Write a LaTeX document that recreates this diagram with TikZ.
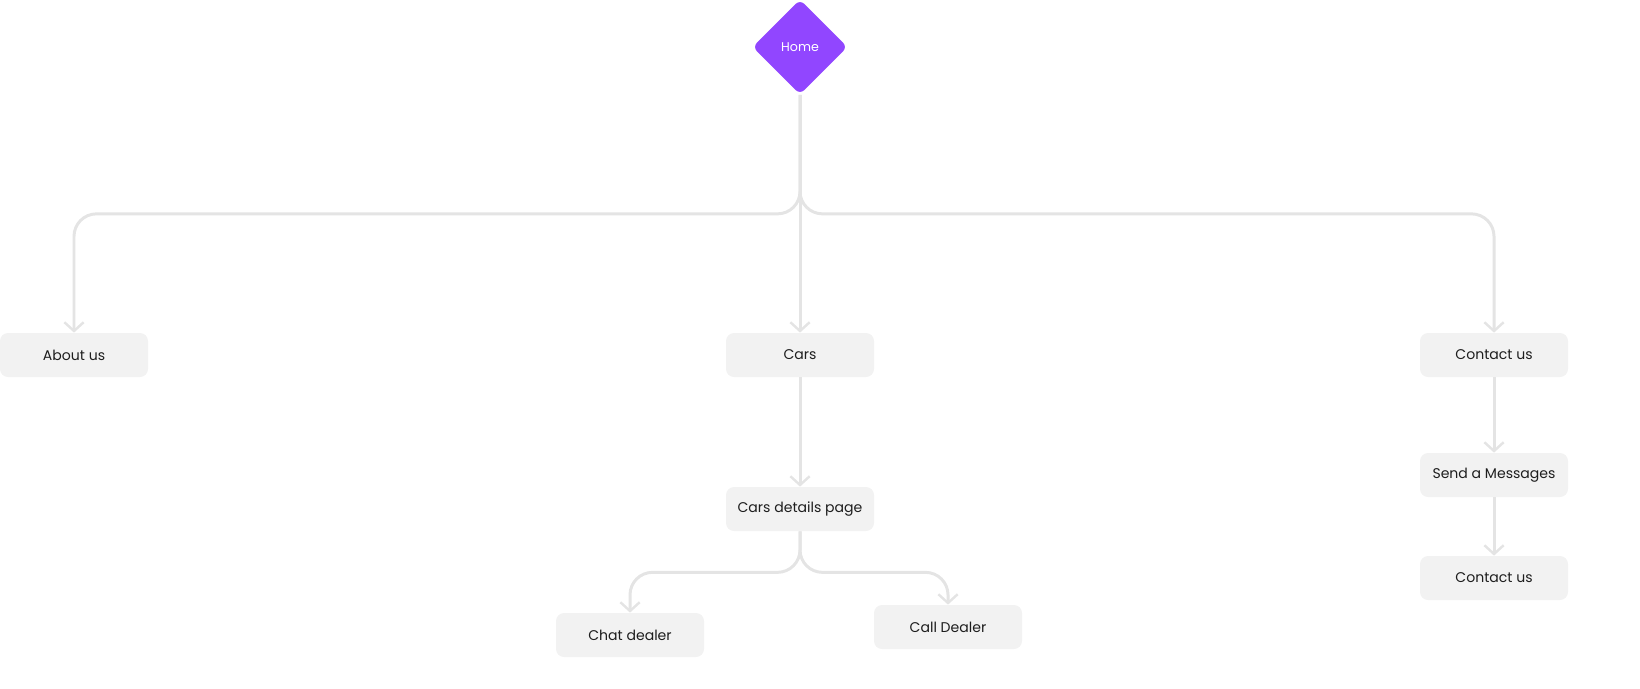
\documentclass[tikz,border=0pt]{standalone}
\usepackage{fontspec}
\setmainfont{Poppins}
\usetikzlibrary{arrows.meta,shapes.geometric,positioning}
\definecolor{homepurple}{HTML}{9146FF}
\definecolor{boxgrey}{HTML}{F2F2F2}
\definecolor{linkgrey}{HTML}{E4E4E4}
\definecolor{labelink}{HTML}{1E1E1E}
\tikzset{
  page/.style={fill=boxgrey, rounded corners=0.16cm, minimum width=2.96cm,
    minimum height=0.88cm, text=labelink, font=\fontsize{8}{9.5}\selectfont},
  link/.style={draw=linkgrey, line width=1.7pt, rounded corners=0.45cm,
    -{Straight Barb[length=5pt,width=11pt,line width=1.4pt]}},
}
\begin{document}
\begin{tikzpicture}
  \useasboundingbox (0,0) rectangle (32.8,-13.76);
  % home
  \node[diamond, fill=homepurple, rounded corners=0.12cm, minimum width=1.9cm,
    minimum height=1.9cm, inner sep=0pt, text=white,
    font=\fontsize{7.2}{8}\selectfont] (home) at (16,-0.94) {Home};
  % first level
  \node[page] (about) at (1.48,-7.1) {About us};
  \node[page] (cars) at (16,-7.1) {Cars};
  \node[page] (contact) at (29.88,-7.1) {Contact us};
  % second level
  \node[page] (details) at (16,-10.18) {Cars details page};
  \node[page] (send) at (29.88,-9.5) {Send a Messages};
  \node[page] (contact2) at (29.88,-11.56) {Contact us};
  % third level
  \node[page] (chat) at (12.6,-12.7) {Chat dealer};
  \node[page] (call) at (18.96,-12.54) {Call Dealer};
  % connectors
  \draw[link] (home.south) -- ++(0,-2.38) -| (about.north);
  \draw[link] (home.south) -- (cars.north);
  \draw[link] (home.south) -- ++(0,-2.38) -| (contact.north);
  \draw[link] (cars.south) -- (details.north);
  \draw[link] (contact.south) -- (send.north);
  \draw[link] (send.south) -- (contact2.north);
  \draw[link] (details.south) -- ++(0,-0.82) -| (chat.north);
  \draw[link] (details.south) -- ++(0,-0.82) -| (call.north);
\end{tikzpicture}
\end{document}
